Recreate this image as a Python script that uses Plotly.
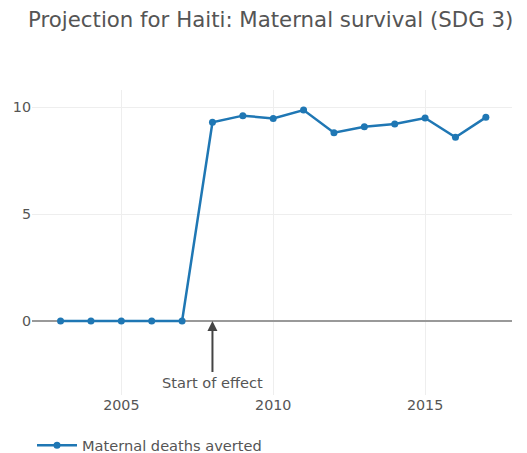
import plotly.graph_objects as go

years = list(range(2003, 2018))
deaths_averted = [0, 0, 0, 0, 0, 9.30, 9.61, 9.48, 9.87, 8.81, 9.09, 9.22, 9.50, 8.60, 9.53]
series_name = "Maternal deaths averted"
effect_year = 2008
effect_label = "Start of effect"
title_text = "Projection for Haiti: Maternal survival (SDG 3)"

FONT = "DejaVu Sans, Verdana, sans-serif"
TXT = "#555"

fig = go.Figure()
fig.add_trace(go.Scatter(
    x=years, y=deaths_averted, mode="lines+markers", name=series_name,
    line=dict(color="#1f77b4", width=2.5), marker=dict(size=7, color="#1f77b4"),
))
fig.add_annotation(
    x=effect_year, y=0, xref="x", yref="y", text=effect_label,
    showarrow=True, arrowhead=2, arrowsize=1, arrowwidth=2, arrowcolor="#444",
    ax=0, ay=61, font=dict(family=FONT, size=14.6, color=TXT),
)
fig.update_layout(
    width=527, height=453,
    title=dict(text=title_text, x=0.038, xanchor="left", y=0.9735, yanchor="middle",
               font=dict(family=FONT, size=21.3, color=TXT)),
    font=dict(family=FONT, size=14, color=TXT),
    margin=dict(l=24, r=23, t=82, b=66),
    plot_bgcolor="white", paper_bgcolor="white",
    showlegend=True,
    legend=dict(orientation="h", x=0, xanchor="left", xref="paper",
                y=0.035, yanchor="middle", yref="container", itemwidth=40,
                font=dict(family=FONT, size=14.6, color=TXT)),
    xaxis=dict(range=[2002.06, 2017.86], tickvals=[2005, 2010, 2015], automargin=False,
               showgrid=True, gridcolor="#eee", zeroline=False, showline=False,
               tickfont=dict(size=14.3)),
    yaxis=dict(range=[-3.46, 10.81], tickvals=[0, 5, 10], automargin=False,
               showgrid=True, gridcolor="#eee", zeroline=True, zerolinecolor="#999",
               zerolinewidth=2, showline=False, tickfont=dict(size=14.3)),
)
fig.write_html("out.html")
